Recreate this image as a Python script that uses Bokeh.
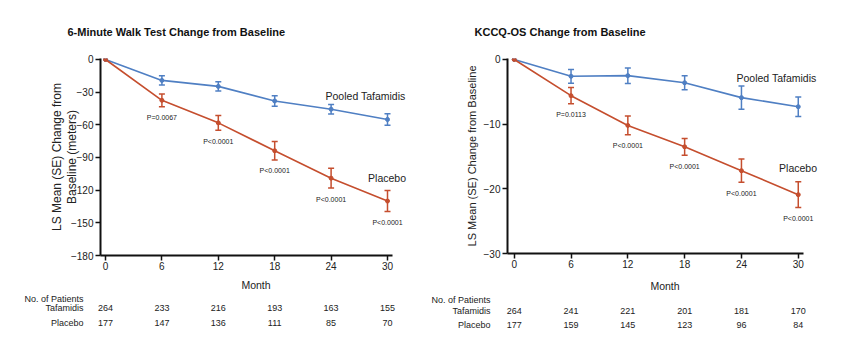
from bokeh.plotting import figure
from bokeh.layouts import row, column
from bokeh.models import ColumnDataSource, Whisker, LabelSet, Label, FixedTicker, Range1d, TeeHead
from bokeh.core.properties import value
from bokeh.embed import file_html
from bokeh.resources import INLINE

FONT = "Liberation Sans"
BLUE = "#4F7FC3"
RED = "#C54E2E"
TXT = "#222222"

months = [0, 6, 12, 18, 24, 30]
row_names = ["Tafamidis", "Placebo"]

# 6-Minute Walk Test
walk_taf_mean = [0, -19.2, -24.7, -38.1, -45.7, -55.1]
walk_taf_se = [0, 4.3, 4.3, 4.9, 4.4, 5.2]
walk_pla_mean = [0, -37.5, -58.2, -83.8, -109.0, -130.0]
walk_pla_se = [0, 5.9, 6.7, 8.4, 9.1, 9.7]
walk_p = ["", "P=0.0067", "P<0.0001", "P<0.0001", "P<0.0001", "P<0.0001"]
walk_n_taf = [264, 233, 216, 193, 163, 155]
walk_n_pla = [177, 147, 136, 111, 85, 70]
walk_yticks = [0, -30, -60, -90, -120, -150, -180]

# KCCQ-OS
kccq_taf_mean = [0, -2.6, -2.5, -3.6, -5.9, -7.3]
kccq_taf_se = [0, 1.06, 1.2, 1.1, 1.8, 1.5]
kccq_pla_mean = [0, -5.6, -10.2, -13.5, -17.2, -20.9]
kccq_pla_se = [0, 1.26, 1.45, 1.3, 1.8, 2.0]
kccq_p = ["", "P=0.0113", "P<0.0001", "P<0.0001", "P<0.0001", "P<0.0001"]
kccq_n_taf = [264, 241, 221, 201, 181, 170]
kccq_n_pla = [177, 159, 145, 123, 96, 84]
kccq_yticks = [0, -10, -20, -30]


def style_axis(ax):
    ax.axis_line_width = 2
    ax.axis_line_color = "#111111"
    ax.major_tick_line_width = 1.5
    ax.major_tick_line_color = "#111111"
    ax.major_tick_out = 5
    ax.major_tick_in = 0
    ax.minor_tick_line_color = None
    ax.major_label_text_font = FONT
    ax.major_label_text_font_size = "10px"
    ax.major_label_text_color = TXT
    ax.axis_label_text_font = FONT
    ax.axis_label_text_font_style = "normal"
    ax.axis_label_text_color = TXT


def panel(title, ylabel, taf_m, taf_se, pla_m, pla_se, pvals, n_taf, n_pla, yticks,
          width, main_h, table_h, bl, br, bt, bb, xr, xbounds, yr, ylab_size, ylab_standoff,
          taf_lab, pla_lab, table_yr, nop_y, month_standoff, title_standoff,
          table_shift, px_per_month):
    xrange = Range1d(*xr)
    p = figure(width=width, height=main_h, output_backend="svg", toolbar_location=None,
               x_range=xrange, y_range=Range1d(*yr), frame_align=False,
               min_border_left=bl, min_border_right=br, min_border_top=bt, min_border_bottom=bb)
    p.outline_line_color = None
    p.grid.visible = False

    p.title.text = title
    p.title.align = "left"
    p.title.offset = -33
    p.title.standoff = title_standoff
    p.title.text_font = FONT
    p.title.text_font_style = "bold"
    p.title.text_font_size = "11px"
    p.title.text_color = "#111111"

    style_axis(p.xaxis[0])
    style_axis(p.yaxis[0])
    p.xaxis.bounds = xbounds
    p.xaxis.ticker = FixedTicker(ticks=months)
    p.xaxis.major_label_standoff = 1
    p.xaxis.axis_label = "Month"
    p.xaxis.axis_label_text_font_size = "10.5px"
    p.xaxis.axis_label_standoff = month_standoff

    p.yaxis.ticker = FixedTicker(ticks=yticks)
    p.yaxis.major_label_standoff = 2
    p.yaxis.axis_label = ylabel
    p.yaxis.axis_label_text_font_size = ylab_size
    p.yaxis.axis_label_text_line_height = 1.05
    p.yaxis.axis_label_standoff = ylab_standoff

    for m, se, col in ((taf_m, taf_se, BLUE), (pla_m, pla_se, RED)):
        src = ColumnDataSource(dict(x=months, y=m))
        p.line("x", "y", source=src, line_color=col, line_width=1.6)
        p.scatter("x", "y", source=src, size=4, fill_color=col, line_color=col)
        ex = [x for x, s in zip(months, se) if s > 0]
        lo = [y - s for y, s in zip(m, se) if s > 0]
        hi = [y + s for y, s in zip(m, se) if s > 0]
        wsrc = ColumnDataSource(dict(base=ex, lower=lo, upper=hi))
        w = Whisker(base="base", lower="lower", upper="upper", source=wsrc,
                    line_color=col, line_width=1.5,
                    upper_head=TeeHead(size=6, line_color=col, line_width=1.5),
                    lower_head=TeeHead(size=6, line_color=col, line_width=1.5))
        p.add_layout(w)

    # p-values under placebo points
    px = [x for x, t in zip(months, pvals) if t]
    py = [y - s for y, s, t in zip(pla_m, pla_se, pvals) if t]
    pt = [t for t in pvals if t]
    psrc = ColumnDataSource(dict(x=px, y=py, t=pt))
    p.add_layout(LabelSet(x="x", y="y", text="t", source=psrc, y_offset=-11,
                          text_align="center", text_baseline="middle",
                          text_font=value(FONT), text_font_size=value("7px"),
                          text_color=TXT))

    # series labels
    for (lx, ly), txt in ((taf_lab, "Pooled Tafamidis"), (pla_lab, "Placebo")):
        p.add_layout(Label(x=lx, y=ly, text=txt, text_align="center",
                           text_baseline="middle", text_font=FONT, text_font_size="10.5px",
                           text_color=TXT))

    # patients table: same x scale (px per month), frame widened on the left
    t_bl = bl - table_shift
    t_xr = (xr[0] - table_shift / px_per_month, xr[1])
    t = figure(width=width, height=table_h, output_backend="svg", toolbar_location=None,
               x_range=Range1d(*t_xr), y_range=Range1d(*table_yr), x_axis_location=None,
               frame_align=False,
               min_border_left=t_bl, min_border_right=br, min_border_top=0, min_border_bottom=0)
    t.outline_line_color = None
    t.grid.visible = False
    ya = t.yaxis[0]
    ya.axis_line_color = None
    ya.major_tick_line_color = None
    ya.minor_tick_line_color = None
    ya.major_tick_out = 0
    ya.major_tick_in = 0
    ya.major_label_standoff = max(0, 17 - table_shift)
    ya.major_label_text_font = FONT
    ya.major_label_text_font_size = "9px"
    ya.major_label_text_color = TXT
    ya.ticker = FixedTicker(ticks=[nop_y, 2, 1])
    ya.major_label_overrides = {nop_y: "No. of Patients", 2: row_names[0], 1: row_names[1]}

    for ry, ns in ((2, n_taf), (1, n_pla)):
        nsrc = ColumnDataSource(dict(x=months, y=[ry] * len(months), t=[str(n) for n in ns]))
        t.text("x", "y", text="t", source=nsrc, text_align="center", text_baseline="middle",
               text_font=value(FONT), text_font_size=value("9px"), text_color=TXT)
    return column(p, t)


c1 = panel("6-Minute Walk Test Change from Baseline", "LS Mean (SE) Change from\nBaseline (meters)",
           walk_taf_mean, walk_taf_se, walk_pla_mean, walk_pla_se, walk_p, walk_n_taf, walk_n_pla,
           walk_yticks, width=420, main_h=293, table_h=47, bl=100, br=9, bt=58, bb=37,
           xr=(-0.532, 32.553), xbounds=(-0.532, 30.532), yr=(-180, 0.9),
           ylab_size="12px", ylab_standoff=-11,
           taf_lab=(27.66, -33.5), pla_lab=(29.95, -108.5),
           table_yr=(-0.133, 2.95), nop_y=2.8, month_standoff=6, title_standoff=42,
           table_shift=14, px_per_month=9.4)

c2 = panel("KCCQ-OS Change from Baseline", "LS Mean (SE) Change from Baseline",
           kccq_taf_mean, kccq_taf_se, kccq_pla_mean, kccq_pla_se, kccq_p, kccq_n_taf, kccq_n_pla,
           kccq_yticks, width=422, main_h=294, table_h=46, bl=87, br=20, bt=58, bb=37,
           xr=(-0.71, 32.56), xbounds=(-0.71, 30.56), yr=(-30, 0.15),
           ylab_size="11px", ylab_standoff=3,
           taf_lab=(27.7, -2.88), pla_lab=(29.98, -16.84),
           table_yr=(-0.049, 3.13), nop_y=2.89, month_standoff=9, title_standoff=42,
           table_shift=14, px_per_month=9.467)

layout = row(c1, c2)
open("out.html", "w").write(file_html(layout, INLINE))
